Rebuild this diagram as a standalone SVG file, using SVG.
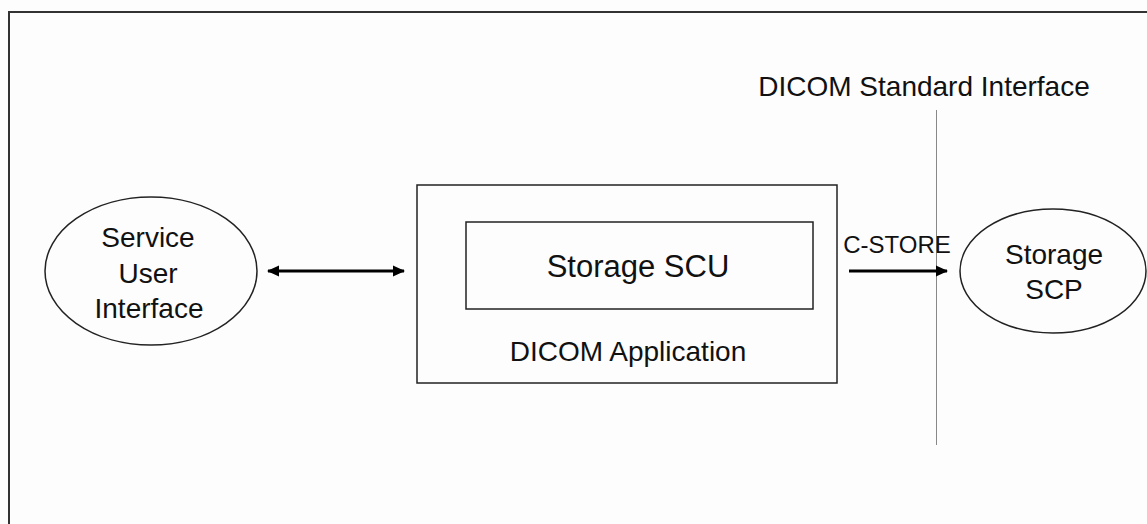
<svg xmlns="http://www.w3.org/2000/svg" width="1147" height="524" viewBox="0 0 1147 524">
<defs>
<style>
.t{font-family:"Liberation Sans",Arial,sans-serif;fill:#111;text-anchor:middle}
.shape{fill:none;stroke:#222;stroke-width:1.5}
.conn{stroke:#000;stroke-width:3;fill:none}
</style>
<marker id="ah" viewBox="0 0 12 12" refX="11" refY="6" markerWidth="12" markerHeight="12" markerUnits="userSpaceOnUse" orient="auto-start-reverse">
<path d="M0,0.5 L12,6 L0,11.5 z" fill="#000"/>
</marker>
</defs>
<rect x="0" y="0" width="1147" height="524" fill="#fdfdfd"/>
<path d="M9,524 L9,12 L1147,12" fill="none" stroke="#333" stroke-width="2"/>
<line x1="936.5" y1="110" x2="936.5" y2="445" stroke="#888" stroke-width="1"/>
<text class="t" x="924" y="96" font-size="28">DICOM Standard Interface</text>
<g id="service-user-interface">
<ellipse class="shape" cx="151" cy="271" rx="106" ry="74"/>
<text class="t" x="148" y="247" font-size="28">Service</text>
<text class="t" x="148" y="283" font-size="28">User</text>
<text class="t" x="149" y="318" font-size="28">Interface</text>
</g>
<g id="dicom-application">
<rect class="shape" x="417" y="185" width="420" height="198"/>
<text class="t" x="628" y="361" font-size="28">DICOM Application</text>
</g>
<g id="storage-scu">
<rect class="shape" x="466" y="222" width="347" height="87"/>
<text class="t" x="638" y="277" font-size="31">Storage SCU</text>
</g>
<g id="storage-scp">
<ellipse class="shape" cx="1053" cy="271" rx="93" ry="62"/>
<text class="t" x="1054" y="264" font-size="28">Storage</text>
<text class="t" x="1054" y="299" font-size="28">SCP</text>
</g>
<g id="connectors">
<line class="conn" x1="268" y1="271" x2="404" y2="271" marker-start="url(#ah)" marker-end="url(#ah)"/>
<line class="conn" x1="849" y1="271" x2="947" y2="271" marker-end="url(#ah)"/>
<text class="t" x="897" y="253" font-size="24">C-STORE</text>
</g>
</svg>
